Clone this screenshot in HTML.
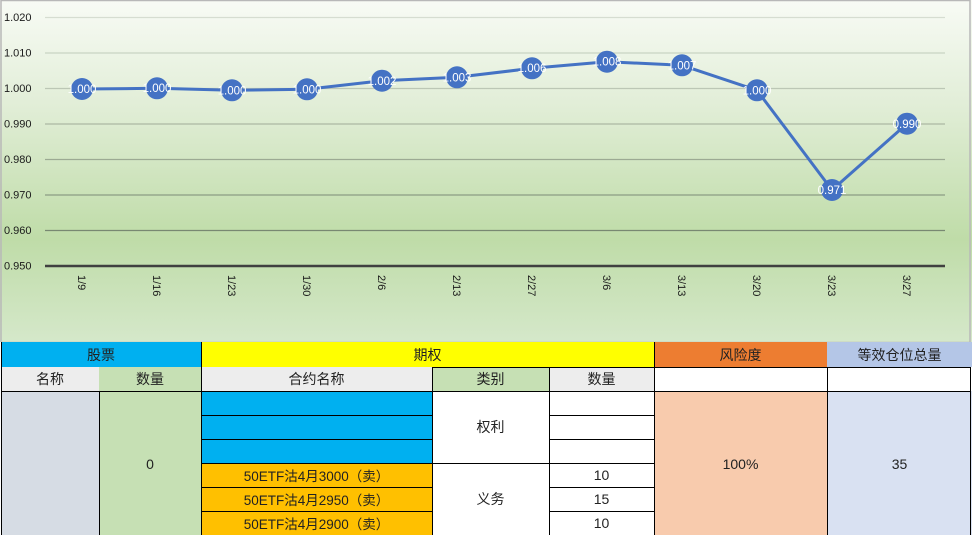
<!DOCTYPE html>
<html><head><meta charset="utf-8">
<style>
*{margin:0;padding:0;box-sizing:border-box}
html,body{width:972px;height:535px;overflow:hidden;background:#fff}
body{position:relative;font-family:"Liberation Sans","Noto Sans CJK SC",sans-serif}
.c{position:absolute;display:flex;align-items:center;justify-content:center;font-size:14px;color:#222;font-family:"Liberation Sans","Noto Sans CJK SC",sans-serif}
.h{position:absolute;height:1px;background:#000}
.v{position:absolute;width:1px;background:#000}
svg text{font-family:"Liberation Sans","DejaVu Sans",sans-serif}
</style></head><body>
<svg width="972" height="342" style="position:absolute;left:0;top:0" xmlns="http://www.w3.org/2000/svg">
<defs>
<linearGradient id="bg" x1="0" y1="0" x2="0" y2="1">
<stop offset="0" stop-color="#f8fbf5"/>
<stop offset="0.3" stop-color="#e2eed8"/>
<stop offset="0.7" stop-color="#bfdca8"/>
<stop offset="1" stop-color="#d5e8ca"/>
</linearGradient>
</defs>
<rect x="0" y="0" width="972" height="342" fill="url(#bg)"/>
<rect x="1" y="0.5" width="969" height="342" fill="none" stroke="#b8b8b8" stroke-width="1.5"/>
<g stroke-width="1.2">
<line x1="45" x2="945" y1="17.5" y2="17.5" stroke="#d6ddd1"/>
<line x1="45" x2="945" y1="53" y2="53" stroke="#c9d3c3"/>
<line x1="45" x2="945" y1="88.5" y2="88.5" stroke="#bcc7b5"/>
<line x1="45" x2="945" y1="124" y2="124" stroke="#abb8a3"/>
<line x1="45" x2="945" y1="159.5" y2="159.5" stroke="#9caa93"/>
<line x1="45" x2="945" y1="195" y2="195" stroke="#8c9b84"/>
<line x1="45" x2="945" y1="230.5" y2="230.5" stroke="#788872"/>
</g>
<line x1="45" x2="945" y1="266" y2="266" stroke="#404040" stroke-width="2.5"/>
<g font-size="11" fill="#1a1a1a">
<text x="4" y="21">1.020</text>
<text x="4" y="56.5">1.010</text>
<text x="4" y="92">1.000</text>
<text x="4" y="127.5">0.990</text>
<text x="4" y="163">0.980</text>
<text x="4" y="198.5">0.970</text>
<text x="4" y="234">0.960</text>
<text x="4" y="269.5">0.950</text>
</g>
<g font-size="11" fill="#1a1a1a">
<text transform="translate(78,275) rotate(90)">1/9</text>
<text transform="translate(153,275) rotate(90)">1/16</text>
<text transform="translate(228,275) rotate(90)">1/23</text>
<text transform="translate(303,275) rotate(90)">1/30</text>
<text transform="translate(378,275) rotate(90)">2/6</text>
<text transform="translate(453,275) rotate(90)">2/13</text>
<text transform="translate(528,275) rotate(90)">2/27</text>
<text transform="translate(603,275) rotate(90)">3/6</text>
<text transform="translate(678,275) rotate(90)">3/13</text>
<text transform="translate(753,275) rotate(90)">3/20</text>
<text transform="translate(828,275) rotate(90)">3/23</text>
<text transform="translate(903,275) rotate(90)">3/27</text>
</g>
<polyline fill="none" stroke="#4472C4" stroke-width="3" stroke-linejoin="round" points="82,89 157,88.3 232,90.3 307,89.3 382,80.7 457,77.3 532,68.3 607,61.7 682,65.3 757,90.3 832,190 907,123.7"/>
<g fill="#4472C4">
<circle cx="82" cy="89" r="11"/>
<circle cx="157" cy="88.3" r="11"/>
<circle cx="232" cy="90.3" r="11"/>
<circle cx="307" cy="89.3" r="11"/>
<circle cx="382" cy="80.7" r="11"/>
<circle cx="457" cy="77.3" r="11"/>
<circle cx="532" cy="68.3" r="11"/>
<circle cx="607" cy="61.7" r="11"/>
<circle cx="682" cy="65.3" r="11"/>
<circle cx="757" cy="90.3" r="11"/>
<circle cx="832" cy="190" r="11"/>
<circle cx="907" cy="123.7" r="11"/>
</g>
<g font-size="11.5" fill="#ffffff" text-anchor="middle">
<text x="82" y="93">1.000</text>
<text x="157" y="92">1.000</text>
<text x="232" y="94.5">1.000</text>
<text x="307" y="93.5">1.000</text>
<text x="382" y="85">1.002</text>
<text x="457" y="81.5">1.003</text>
<text x="532" y="72">1.006</text>
<text x="607" y="65.5">1.008</text>
<text x="682" y="69.5">1.007</text>
<text x="757" y="94.5">1.000</text>
<text x="832" y="194">0.971</text>
<text x="907" y="128">0.990</text>
</g>
</svg>

<!-- Row 1 -->
<div class="c" style="left:1px;top:342px;width:200px;height:25px;background:#00B0F0">股票</div>
<div class="c" style="left:201px;top:342px;width:453px;height:25px;background:#FFFF00">期权</div>
<div class="c" style="left:654px;top:342px;width:173px;height:25px;background:#ED7D31">风险度</div>
<div class="c" style="left:827px;top:342px;width:145px;height:25px;background:#B4C6E7">等效仓位总量</div>
<!-- Row 2 -->
<div class="c" style="left:1px;top:367px;width:98px;height:24px;background:#EDEDED">名称</div>
<div class="c" style="left:99px;top:367px;width:102px;height:24px;background:#C6E0B4">数量</div>
<div class="c" style="left:201px;top:367px;width:231px;height:24px;background:#EDEDED">合约名称</div>
<div class="c" style="left:432px;top:367px;width:117px;height:24px;background:#C6E0B4">类别</div>
<div class="c" style="left:549px;top:367px;width:105px;height:24px;background:#EDEDED">数量</div>
<div class="c" style="left:654px;top:367px;width:173px;height:24px;background:#fff"></div>
<div class="c" style="left:827px;top:367px;width:145px;height:24px;background:#fff"></div>
<!-- Body -->
<div class="c" style="left:1px;top:391px;width:98px;height:144px;background:#D6DCE4"></div>
<div class="c" style="left:99px;top:391px;width:102px;height:144px;background:#C6E0B4;padding-top:2px">0</div>
<div class="c" style="left:201px;top:391px;width:231px;height:72px;background:#00B0F0"></div>
<div class="c" style="left:201px;top:463px;width:231px;height:24px;background:#FFC000;font-size:13.5px">50ETF沽4月3000（卖）</div>
<div class="c" style="left:201px;top:487px;width:231px;height:24px;background:#FFC000;font-size:13.5px">50ETF沽4月2950（卖）</div>
<div class="c" style="left:201px;top:511px;width:231px;height:24px;background:#FFC000;font-size:13.5px">50ETF沽4月2900（卖）</div>
<div class="c" style="left:432px;top:391px;width:117px;height:72px;background:#fff">权利</div>
<div class="c" style="left:432px;top:463px;width:117px;height:72px;background:#fff">义务</div>
<div class="c" style="left:549px;top:391px;width:105px;height:72px;background:#fff"></div>
<div class="c" style="left:549px;top:463px;width:105px;height:24px;background:#fff">10</div>
<div class="c" style="left:549px;top:487px;width:105px;height:24px;background:#fff">15</div>
<div class="c" style="left:549px;top:511px;width:105px;height:24px;background:#fff">10</div>
<div class="c" style="left:654px;top:391px;width:173px;height:144px;background:#F8CBAD;padding-top:2px">100%</div>
<div class="c" style="left:827px;top:391px;width:145px;height:144px;background:#D9E1F2;padding-top:2px">35</div>

<!-- lines -->
<div class="v" style="left:1px;top:342px;height:193px"></div>
<div class="v" style="left:201px;top:342px;height:193px"></div>
<div class="v" style="left:654px;top:342px;height:193px"></div>
<div class="v" style="left:970px;top:367px;height:168px"></div>
<div class="v" style="left:827px;top:367px;height:168px"></div>
<div class="v" style="left:432px;top:367px;height:168px"></div>
<div class="v" style="left:549px;top:367px;height:168px"></div>
<div class="v" style="left:99px;top:391px;height:144px"></div>
<div class="h" style="left:432px;top:367px;width:539px"></div>
<div class="h" style="left:1px;top:391px;width:970px"></div>
<div class="h" style="left:201px;top:415px;width:231px"></div>
<div class="h" style="left:201px;top:439px;width:231px"></div>
<div class="h" style="left:201px;top:463px;width:348px"></div>
<div class="h" style="left:201px;top:487px;width:231px"></div>
<div class="h" style="left:201px;top:511px;width:231px"></div>
<div class="h" style="left:549px;top:415px;width:105px"></div>
<div class="h" style="left:549px;top:439px;width:105px"></div>
<div class="h" style="left:549px;top:463px;width:105px"></div>
<div class="h" style="left:549px;top:487px;width:105px"></div>
<div class="h" style="left:549px;top:511px;width:105px"></div>
</body></html>
